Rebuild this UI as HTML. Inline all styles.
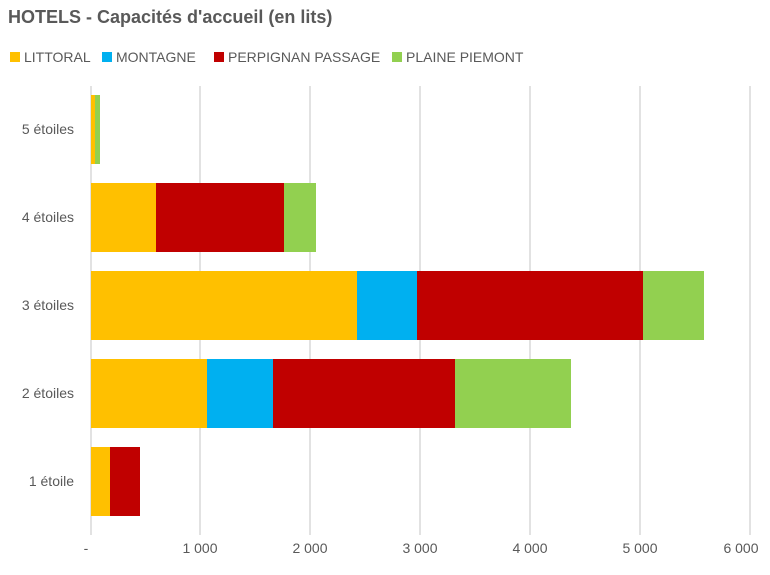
<!DOCTYPE html>
<html><head><meta charset="utf-8"><style>
body{margin:0;background:#fff;}
svg text{font-family:"Liberation Sans",sans-serif;}
</style></head><body>
<svg width="770" height="570" viewBox="0 0 770 570" xmlns="http://www.w3.org/2000/svg">
<rect width="770" height="570" fill="#fff"/>
<text x="8" y="23" font-size="18" font-weight="bold" fill="#595959">HOTELS - Capacités d'accueil (en lits)</text>
<g font-size="14" fill="#595959">
<rect x="10" y="52" width="10" height="10" fill="#FFC000"/><text x="24" y="62">LITTORAL</text>
<rect x="102" y="52" width="10" height="10" fill="#00B0F0"/><text x="116" y="62">MONTAGNE</text>
<rect x="214" y="52" width="10" height="10" fill="#C00000"/><text x="228" y="62">PERPIGNAN PASSAGE</text>
<rect x="392" y="52" width="10" height="10" fill="#92D050"/><text x="406" y="62">PLAINE PIEMONT</text>
</g>
<g stroke="#d9d9d9" stroke-width="1.5">
<line x1="91" y1="86" x2="91" y2="535"/>
<line x1="200" y1="86" x2="200" y2="535"/>
<line x1="310" y1="86" x2="310" y2="535"/>
<line x1="420" y1="86" x2="420" y2="535"/>
<line x1="530" y1="86" x2="530" y2="535"/>
<line x1="640" y1="86" x2="640" y2="535"/>
<line x1="750" y1="86" x2="750" y2="535"/>
</g>
<g>
<rect x="91" y="95" width="4" height="69" fill="#FFC000"/><rect x="95" y="95" width="5" height="69" fill="#92D050"/>
<rect x="91" y="183" width="65" height="69" fill="#FFC000"/><rect x="156" y="183" width="128" height="69" fill="#C00000"/><rect x="284" y="183" width="32" height="69" fill="#92D050"/>
<rect x="91" y="271" width="266" height="69" fill="#FFC000"/><rect x="357" y="271" width="60" height="69" fill="#00B0F0"/><rect x="417" y="271" width="226" height="69" fill="#C00000"/><rect x="643" y="271" width="61" height="69" fill="#92D050"/>
<rect x="91" y="359" width="116" height="69" fill="#FFC000"/><rect x="207" y="359" width="66" height="69" fill="#00B0F0"/><rect x="273" y="359" width="182" height="69" fill="#C00000"/><rect x="455" y="359" width="116" height="69" fill="#92D050"/>
<rect x="91" y="447" width="19" height="69" fill="#FFC000"/><rect x="110" y="447" width="30" height="69" fill="#C00000"/>
</g>
<g font-size="14" fill="#595959" text-anchor="end">
<text x="74" y="134">5 étoiles</text>
<text x="74" y="222">4 étoiles</text>
<text x="74" y="310">3 étoiles</text>
<text x="74" y="398">2 étoiles</text>
<text x="74" y="486">1 étoile</text>
</g>
<g font-size="14" fill="#595959" text-anchor="middle">
<text x="86" y="553">-</text>
<text x="200" y="553">1 000</text>
<text x="310" y="553">2 000</text>
<text x="420" y="553">3 000</text>
<text x="530" y="553">4 000</text>
<text x="640" y="553">5 000</text>
<text x="741" y="553">6 000</text>
</g>
</svg>
</body></html>
